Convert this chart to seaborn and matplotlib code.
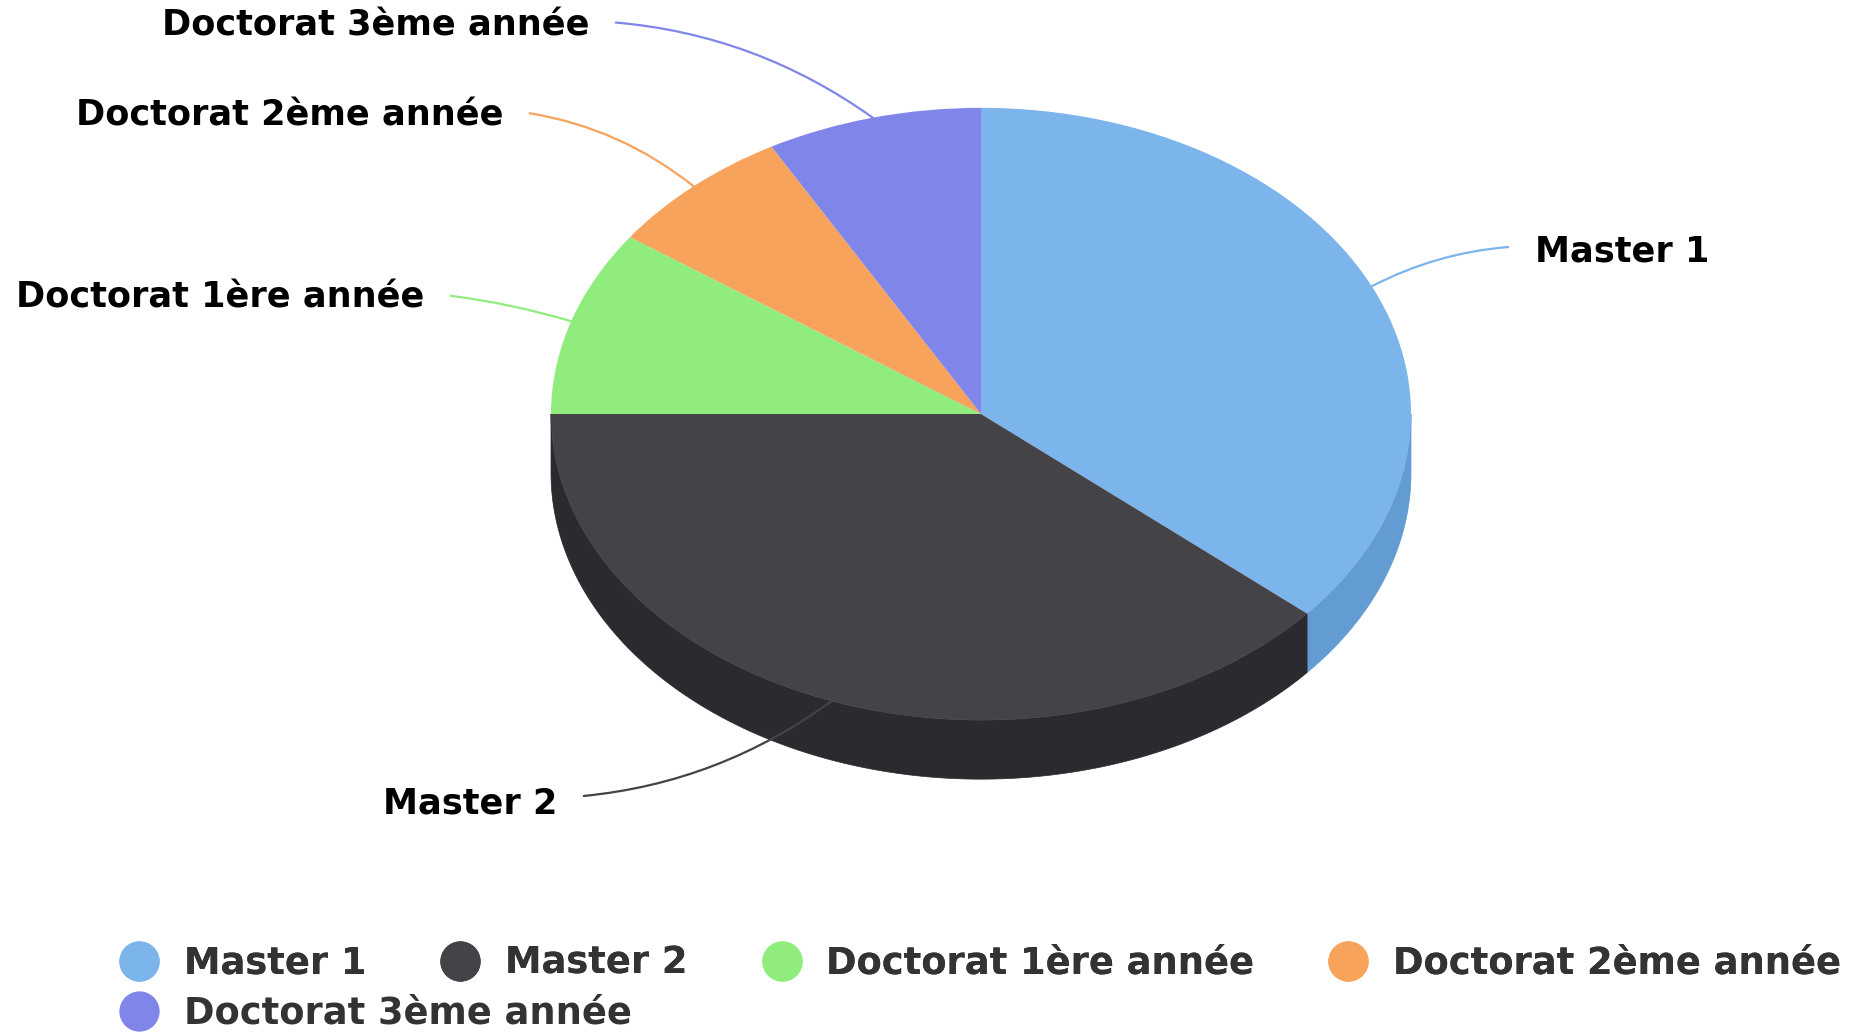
import numpy as np
import matplotlib
matplotlib.use("Agg")
import matplotlib.pyplot as plt
import seaborn as sns
from matplotlib.patches import Polygon
from matplotlib.lines import Line2D

# --- données ---
categories = ["Master 1", "Master 2", "Doctorat 1ère année",
              "Doctorat 2ème année", "Doctorat 3ème année"]
shares = [36.3, 38.7, 9.8, 7.1, 8.1]
top_colors = ["#7cb5ec", "#434348", "#90ed7d", "#f7a35c", "#8085e9"]

# position des étiquettes (pixels, y depuis le haut), alignement, courbure du connecteur
label_xy = [(1535, 251), (557, 803), (424, 298), (503, 115), (589, 26)]
label_ha = ["left", "right", "right", "right", "right"]
label_rad = [0.12, 0.15, -0.05, -0.15, -0.15]

sns.set_theme(style="white")
plt.rcParams["font.family"] = ["DejaVu Sans"]

W, H = 1857, 1033
fig = plt.figure(figsize=(W / 100, H / 100), dpi=100)
ax = fig.add_axes([0, 0, 1, 1])

squash = 0.712          # ellipse (vue inclinée)
r = 430
cx, cy = 981, (H - 414) / squash
depth = 59 / squash

palette = sns.color_palette(top_colors)
side_colors = [tuple(max(c - 0.1, 0) for c in col) for col in palette]

# face supérieure
wedges, _ = ax.pie(shares, colors=palette, startangle=90, counterclock=False,
                   center=(cx, cy), radius=r,
                   wedgeprops=dict(linewidth=0, zorder=3))

# flancs visibles (moitié avant)
for w, sc in zip(wedges, side_colors):
    t1, t2 = w.theta1, w.theta2
    for k in (-1, 0, 1):
        a = max(t1, 180 + 360 * k)
        b = min(t2, 360 + 360 * k)
        if b <= a:
            continue
        t = np.radians(np.linspace(a, b, 200))
        xs = cx + r * np.cos(t)
        ys = cy + r * np.sin(t)
        pts = np.column_stack([np.r_[xs, xs[::-1]], np.r_[ys, ys[::-1] - depth]])
        ax.add_patch(Polygon(pts, closed=True, facecolor=sc, edgecolor=sc,
                             linewidth=0.5, zorder=2))

ax.set_aspect("auto")
ax.set_xlim(0, W)
ax.set_ylim(0, H / squash)
ax.axis("off")

# étiquettes avec connecteurs
for w, name, col, (lx, ly), ha, rad in zip(wedges, categories, palette,
                                            label_xy, label_ha, label_rad):
    mid = np.radians((w.theta1 + w.theta2) / 2)
    px, py = cx + r * np.cos(mid), cy + r * np.sin(mid)
    ax.annotate(name, xy=(px, py), xycoords="data",
                xytext=(lx, H - ly), textcoords="figure pixels",
                ha=ha, va="center", fontsize=25.3, fontweight="bold", color="black",
                arrowprops=dict(arrowstyle="-", color=col, lw=1.6,
                                connectionstyle=f"arc3,rad={rad}",
                                shrinkA=17, shrinkB=0,
                                relpos=(0 if ha == "left" else 1, 0.65)),
                zorder=5)

# légende
handles = [Line2D([], [], marker="o", linestyle="", markersize=29,
                  markerfacecolor=c, markeredgewidth=0) for c in palette]
leg_kw = dict(loc="center left", frameon=False, borderpad=0, borderaxespad=0,
              handlelength=1.2, handletextpad=0.62, columnspacing=1.95,
              prop=dict(size=26.5, weight="bold"), labelcolor="#333333")
leg1 = fig.legend(handles[:4], categories[:4], ncol=4,
                  bbox_to_anchor=(117 / W, 1 - 963 / H), **leg_kw)
fig.add_artist(leg1)
fig.legend(handles[4:], categories[4:], ncol=1,
           bbox_to_anchor=(117 / W, 1 - 1013 / H), **leg_kw)

fig.savefig("out.png", dpi=100, facecolor="white")
